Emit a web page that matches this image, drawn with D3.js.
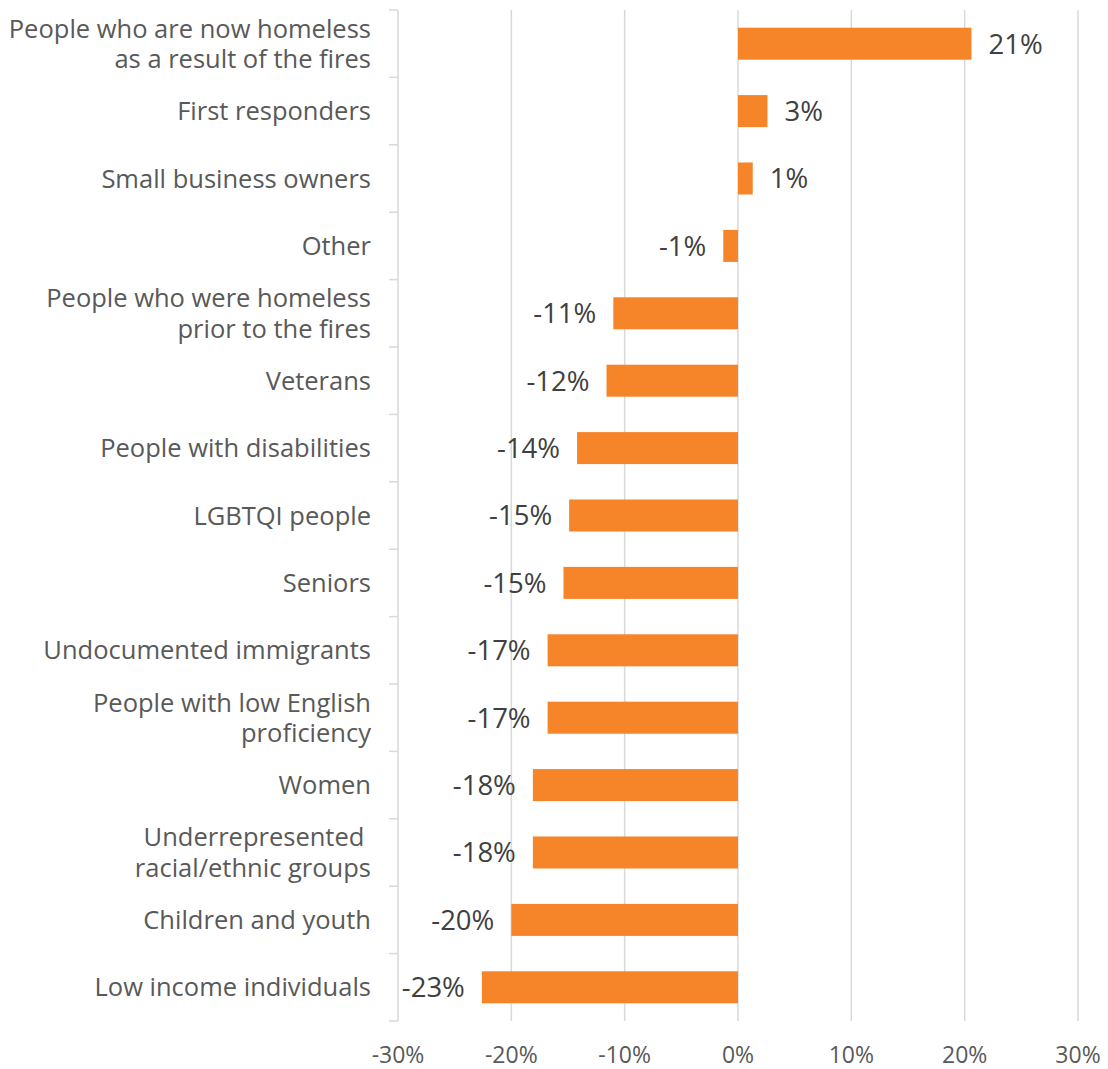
<!DOCTYPE html>
<html>
<head>
<meta charset="utf-8">
<script src="https://cdn.jsdelivr.net/npm/d3@7"></script>
<style>
  html, body { margin: 0; padding: 0; background: #fff; }
  svg { display: block; }
</style>
</head>
<body>
<svg id="chart" width="1108" height="1069"></svg>
<script>
// Groups, top to bottom (each entry is the lines of the label)
const categories = [
  ["People who are now homeless", "as a result of the fires"],
  ["First responders"],
  ["Small business owners"],
  ["Other"],
  ["People who were homeless", "prior to the fires"],
  ["Veterans"],
  ["People with disabilities"],
  ["LGBTQI people"],
  ["Seniors"],
  ["Undocumented immigrants"],
  ["People with low English", "proficiency"],
  ["Women"],
  ["Underrepresented ", "racial/ethnic groups"],
  ["Children and youth"],
  ["Low income individuals"]
];

// Net change per group
const values = [0.206, 0.026, 0.013, -0.013, -0.110, -0.116, -0.142, -0.149, -0.154,
                -0.168, -0.168, -0.181, -0.181, -0.200, -0.226];

// Axis ticks
const ticks = [-0.3, -0.2, -0.1, 0, 0.1, 0.2, 0.3];

const svg = d3.select("#chart");
const margin = { left: 398, right: 30, top: 10, bottom: 48 };
const width = 1108, height = 1069;

const x = d3.scaleLinear()
  .domain([-0.3, 0.3])
  .range([margin.left, 1078]);

const y = d3.scaleBand()
  .domain(d3.range(categories.length))
  .range([margin.top, height - margin.bottom])
  .paddingInner(0.525)
  .paddingOuter(0.2625);

const yTop = margin.top, yBottom = height - margin.bottom;
// Percent format with a plain hyphen for negatives
const pct = d3.formatLocale({
  decimal: ".", thousands: ",", grouping: [3], currency: ["$", ""], minus: "-"
}).format(".0%");
const font = "'Open Sans', sans-serif";

// Vertical gridlines
svg.append("g")
  .selectAll("line")
  .data(ticks.filter(t => t !== -0.3))
  .join("line")
  .attr("x1", d => x(d)).attr("x2", d => x(d))
  .attr("y1", yTop).attr("y2", yBottom)
  .attr("stroke", "#d9d9d9")
  .attr("stroke-width", 1.5);

// Category axis with boundary ticks
const axisG = svg.append("g");
axisG.append("line")
  .attr("x1", x(-0.3)).attr("x2", x(-0.3))
  .attr("y1", yTop).attr("y2", yBottom)
  .attr("stroke", "#d9d9d9").attr("stroke-width", 1.5);
axisG.selectAll("line.tick")
  .data(d3.range(categories.length + 1))
  .join("line")
  .attr("class", "tick")
  .attr("x1", x(-0.3) - 9).attr("x2", x(-0.3))
  .attr("y1", i => yTop + (yBottom - yTop) * i / categories.length)
  .attr("y2", i => yTop + (yBottom - yTop) * i / categories.length)
  .attr("stroke", "#d9d9d9").attr("stroke-width", 1.5);

// Bars
svg.append("g")
  .selectAll("rect")
  .data(values)
  .join("rect")
  .attr("x", d => x(Math.min(0, d)))
  .attr("width", d => Math.abs(x(d) - x(0)))
  .attr("y", (d, i) => y(i))
  .attr("height", y.bandwidth())
  .attr("fill", "#f68428");

// Value labels
svg.append("g")
  .selectAll("text")
  .data(values)
  .join("text")
  .attr("x", d => d >= 0 ? x(d) + 17 : x(d) - 17)
  .attr("y", (d, i) => y(i) + y.bandwidth() / 2)
  .attr("dy", "0.36em")
  .attr("text-anchor", d => d >= 0 ? "start" : "end")
  .attr("font-family", font)
  .attr("font-size", 27.5)
  .attr("fill", "#404040")
  .text(d => pct(d));

// Category labels
const catG = svg.append("g");
categories.forEach((lines, i) => {
  const cy = y(i) + y.bandwidth() / 2;
  const lh = 30.5;
  const t = catG.append("text")
    .attr("text-anchor", "end")
    .attr("font-family", font)
    .attr("font-size", 25.5)
    .attr("fill", "#595959");
  lines.forEach((line, j) => {
    t.append("tspan")
      .attr("x", 371)
      .attr("y", cy + (j - (lines.length - 1) / 2) * lh)
      .attr("dy", "0.36em")
      .text(line);
  });
});

// Value axis labels
svg.append("g")
  .selectAll("text")
  .data(ticks)
  .join("text")
  .attr("x", d => x(d))
  .attr("y", 1062.5)
  .attr("text-anchor", "middle")
  .attr("font-family", font)
  .attr("font-size", 23)
  .attr("fill", "#595959")
  .text(d => pct(d));
</script>
</body>
</html>
